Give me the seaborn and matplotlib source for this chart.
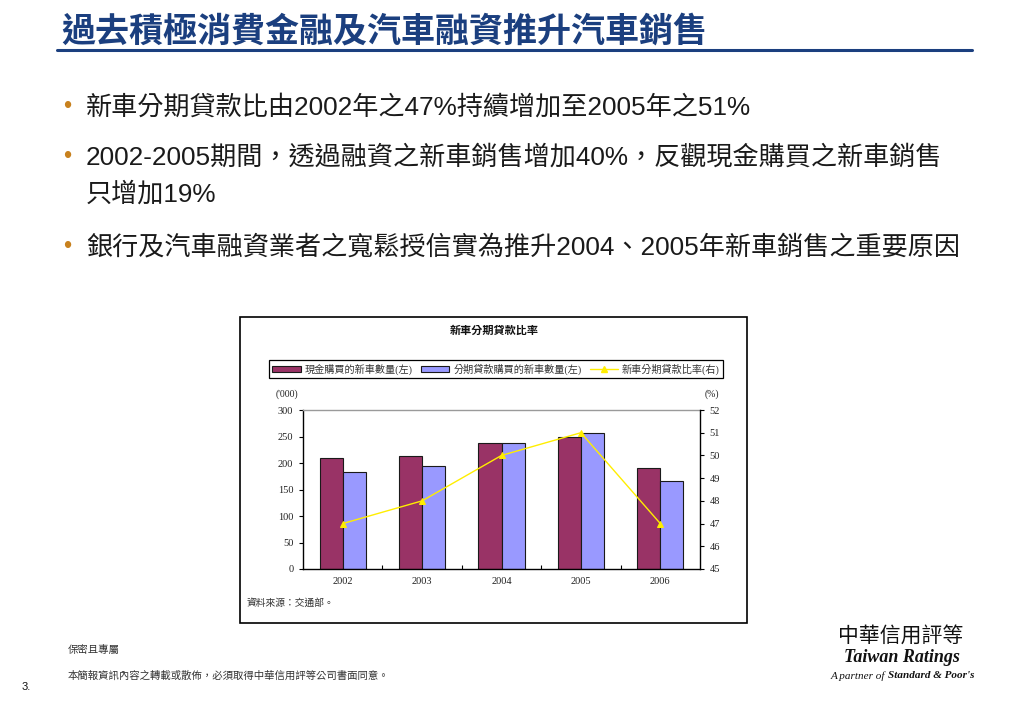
import matplotlib
matplotlib.use('Agg')
import matplotlib.pyplot as plt
import seaborn as sns
import pandas as pd
from matplotlib.patches import Patch, Rectangle
from matplotlib.lines import Line2D

# ---------------- data ----------------
years = ['2002', '2003', '2004', '2005', '2006']
cash_units = [209, 213, 237, 249, 191]      # '000, left axis
loan_units = [183, 194, 238, 257, 166]      # '000, left axis
loan_ratio = [47, 48, 50, 51, 47]           # %, right axis
series_names = ['現金購買的新車數量(左)', '分期貸款購買的新車數量(左)', '新車分期貸款比率(右)']
left_ticks = [0, 50, 100, 150, 200, 250, 300]
right_ticks = [45, 46, 47, 48, 49, 50, 51, 52]

page_title = '過去積極消費金融及汽車融資推升汽車銷售'
bullets = [
    ['新車分期貸款比由2002年之47%持續增加至2005年之51%'],
    ['2002-2005期間，透過融資之新車銷售增加40%，反觀現金購買之新車銷售', '只增加19%'],
    ['銀行及汽車融資業者之寬鬆授信實為推升2004、2005年新車銷售之重要原因'],
]
chart_title = '新車分期貸款比率'
source_note = '資料來源：交通部。'

# ---------------- style ----------------
sns.set_theme(style='white')
plt.rcParams['font.family'] = ['Liberation Sans', 'Noto Sans CJK TC']
SERIF = ['Liberation Serif', 'Noto Sans CJK TC']
W, H = 1023, 708
NAVY = '#1B3F7F'

def fx(x):
    return x / W

def fy(y):
    return 1 - y / H

fig = plt.figure(figsize=(W / 100, H / 100), dpi=100)
fig.patch.set_facecolor('white')

# page title + rule
fig.text(fx(61), fy(31), page_title, fontsize=24.5, fontweight='bold', color=NAVY,
         va='center', ha='left', family=['Noto Sans CJK TC'])
fig.add_artist(Line2D([fx(57), fx(972)], [fy(50), fy(50)], color=NAVY, lw=2.2))

# bullets
bullet_y = [107, 157, 247]
for lines, y in zip(bullets, bullet_y):
    fig.text(fx(63), fy(y), '•', fontsize=17, color='#C8811E', va='center', ha='left')
    for k, line in enumerate(lines):
        fig.text(fx(86), fy(y + 37 * k), line, fontsize=18.8, color='#1a1a1a',
                 va='center', ha='left')

# chart frame
fig.add_artist(Rectangle((fx(240), fy(623)), fx(747) - fx(240), fy(317) - fy(623),
                         transform=fig.transFigure, facecolor='white',
                         edgecolor='black', lw=1.2, zorder=0.5))

fig.text(fx(494), fy(331), chart_title, fontsize=8, fontweight='bold', ha='center',
         va='center', color='#111111', zorder=3)

# axes
ax = fig.add_axes([fx(303), fy(569), fx(700) - fx(303), fy(410) - fy(569)])
ax.set_zorder(2)
ax.set_facecolor('white')

df = pd.DataFrame({
    'year': years * 2,
    'units': cash_units + loan_units,
    'series': [series_names[0]] * len(years) + [series_names[1]] * len(years),
})
sns.barplot(data=df, x='year', y='units', hue='series',
            palette=['#993366', '#9999FF'], saturation=1, width=0.58, gap=0,
            edgecolor='#1a1a1a', linewidth=0.8, legend=False, ax=ax)

ax.set_ylim(0, 300)
ax.set_yticks(left_ticks)
ax.set_xlim(-0.5, len(years) - 0.5)
ax.set_xlabel('')
ax.set_ylabel('')
for s in ['left', 'bottom']:
    ax.spines[s].set_color('black')
    ax.spines[s].set_linewidth(1.0)
ax.spines['top'].set_color('#9a9a9a')
ax.spines['top'].set_linewidth(1.0)
ax.spines['right'].set_visible(False)
ax.tick_params(axis='y', direction='out', length=3, width=0.8, color='black',
               labelsize=7.5, pad=4, left=True)
ax.tick_params(axis='x', length=0, labelsize=7.5, pad=6)
ax.set_xticks([i + 0.5 for i in range(len(years) - 1)], minor=True)
ax.tick_params(axis='x', which='minor', direction='in', length=3, width=0.8,
               color='black', bottom=True)
for lab in ax.get_xticklabels() + ax.get_yticklabels():
    lab.set_family(SERIF)
    lab.set_color('#222222')

ax2 = ax.twinx()
sns.pointplot(x=years, y=loan_ratio, ax=ax2, color='#FFEE00', markers='^',
              markersize=4.5, linewidth=1.0, errorbar=None)
ax2.set_ylim(45, 52)
ax2.set_yticks(right_ticks)
ax2.set_xlim(-0.5, len(years) - 0.5)
ax2.set_ylabel('')
for s in ['left', 'top', 'bottom']:
    ax2.spines[s].set_visible(False)
ax2.spines['right'].set_visible(True)
ax2.spines['right'].set_color('black')
ax2.spines['right'].set_linewidth(1.0)
ax2.tick_params(axis='y', direction='out', length=3, width=0.8, color='black',
                labelsize=7.5, pad=4, right=True)
for lab in ax2.get_yticklabels():
    lab.set_family(SERIF)
    lab.set_color('#222222')

fig.text(fx(287), fy(394), "('000)", fontsize=7, ha='center', va='center',
         family=SERIF, color='#222222', zorder=3)
fig.text(fx(712), fy(394), '(%)', fontsize=7, ha='center', va='center',
         family=SERIF, color='#222222', zorder=3)

# legend
handles = [
    Patch(facecolor='#993366', edgecolor='#1a1a1a', lw=0.8),
    Patch(facecolor='#9999FF', edgecolor='#1a1a1a', lw=0.8),
    Line2D([0], [0], color='#FFEE00', lw=1.0, marker='^', markersize=4),
]
leg = fig.legend(handles, series_names, loc='center',
                 bbox_to_anchor=(fx(496), fy(369)), ncol=3, frameon=True,
                 fancybox=False, edgecolor='black', framealpha=1,
                 prop={'family': SERIF, 'size': 7.3}, handlelength=2.8,
                 handleheight=0.6, columnspacing=0.8, handletextpad=0.4,
                 borderpad=0.35)
leg.get_frame().set_linewidth(0.9)
leg.set_zorder(3)
for t in leg.get_texts():
    t.set_color('#333333')

fig.text(fx(247), fy(603), source_note, fontsize=7, ha='left', va='center',
         color='#333333', family=SERIF, zorder=3)

# footer
fig.text(fx(68), fy(650), '保密且專屬', fontsize=7.5, ha='left', va='center', color='#333333')
fig.text(fx(68), fy(676), '本簡報資訊內容之轉載或散佈，必須取得中華信用評等公司書面同意。',
         fontsize=7.5, ha='left', va='center', color='#333333')
fig.text(fx(22), fy(687), '3.', fontsize=8, ha='left', va='center', color='#111111')

# logo text
fig.text(fx(901), fy(636), '中華信用評等', fontsize=15, ha='center', va='center',
         color='#111111', family=['Noto Sans CJK TC'])
fig.text(fx(902), fy(657), 'Taiwan Ratings', fontsize=13, ha='center', va='center',
         color='#111111', family=['Liberation Serif'], fontweight='bold', style='italic')
t1 = fig.text(fx(831), fy(676), 'A partner of ', fontsize=8, ha='left', va='center',
              color='#111111', family=['Liberation Serif'], style='italic')
plt.annotate("Standard & Poor's", xy=(1, 0.5), xycoords=t1, xytext=(0, 0),
             textcoords='offset points', ha='left', va='center', fontsize=8,
             color='#111111', family=['Liberation Serif'], fontweight='bold',
             style='italic', annotation_clip=False)

fig.savefig('out.png', dpi=100)
